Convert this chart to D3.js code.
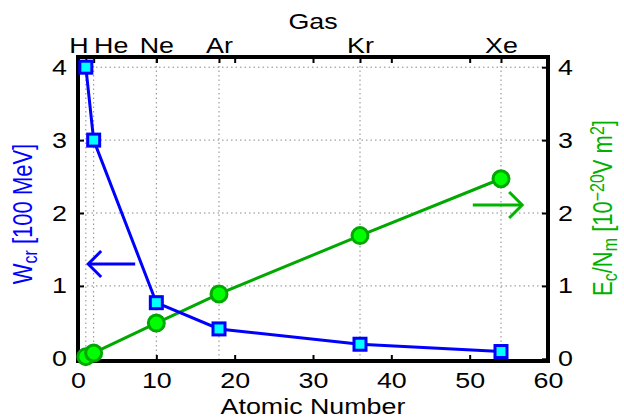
<!DOCTYPE html>
<html lang="en">
<head>
<meta charset="UTF-8">
<title>Wcr and Ec/Nm vs atomic number</title>
<script src="https://cdn.jsdelivr.net/npm/d3@7"></script>
<style>
    body { margin: 0; background: #fff; }
    text { font-family: "Liberation Sans", Arial, sans-serif; font-size: 22px; }
    .axis path { display: none; }
    .axis line { stroke: #000; stroke-width: 2; }
    .grid line { stroke: #8a8a8a; stroke-width: 1; stroke-dasharray: 1.5, 3; }
</style>
</head>
<body>
<script>
    // data
    const gases = ['H', 'He', 'Ne', 'Ar', 'Kr', 'Xe']
    const atomicNumber = [1, 2, 10, 18, 36, 54]
    const wcr = [4.0, 3.0, 0.77, 0.41, 0.2, 0.1]          // [100 MeV]
    const ecNm = [0.03, 0.08, 0.49, 0.89, 1.69, 2.47]    // [1e-20 V m^2]
    const xTicks = [0, 10, 20, 30, 40, 50, 60]
    const yTicks = [0, 1, 2, 3, 4]
    // arrows: [x from, x to, y]
    const leftArrow = [7.3, 1.3, 1.30]
    const rightArrow = [50.4, 56.7, 2.11]

    const width = 624
    const height = 420
    const blue = '#0000ff'
    const green = '#00a800'
    const sx = 1.22   // text in the original is drawn a bit wide

    const svg = d3.select('body').append('svg').attr('width', width).attr('height', height)

    const x = d3.scaleLinear().domain([0, 60]).range([78, 548])
    const y = d3.scaleLinear().domain([-0.03, 4.14]).range([361, 57])
    const pLeft = x.range()[0], pRight = x.range()[1]
    const pTop = y.range()[1], pBottom = y.range()[0]

    // grid
    const grid = svg.append('g').attr('class', 'grid')
    grid.selectAll('.v').data(atomicNumber).enter().append('line')
        .attr('x1', d => x(d)).attr('x2', d => x(d))
        .attr('y1', pTop).attr('y2', pBottom)
    grid.selectAll('.h').data(yTicks.slice(1)).enter().append('line')
        .attr('x1', pLeft).attr('x2', pRight)
        .attr('y1', d => y(d)).attr('y2', d => y(d))

    // axes (ticks inward)
    const fmt = d3.format('d')
    svg.append('g').attr('class', 'axis')
        .attr('transform', 'translate(0,' + pBottom + ')')
        .call(d3.axisBottom(x).tickValues(xTicks).tickSize(-6).tickPadding(11).tickFormat(fmt))
    svg.append('g').attr('class', 'axis')
        .attr('transform', 'translate(0,' + pTop + ')')
        .call(d3.axisTop(x).tickValues(xTicks).tickSize(-6).tickFormat(''))
    const topAxis = svg.append('g').attr('class', 'axis')
        .attr('transform', 'translate(0,' + pTop + ')')
        .call(d3.axisTop(x).tickValues(atomicNumber).tickSize(-6).tickPadding(4)
            .tickFormat((d, i) => gases[i]))
    // nudge H / He apart so they don't overlap
    topAxis.selectAll('.tick text').attr('x', (d, i) => i === 0 ? -6 : (i === 1 ? 14 : 0))

    const leftAxis = svg.append('g').attr('class', 'axis')
        .attr('transform', 'translate(' + pLeft + ',0)')
        .call(d3.axisLeft(y).tickValues(yTicks).tickSize(-6).tickFormat(fmt))
    leftAxis.selectAll('.tick text').attr('x', -11 / sx)
    const rightAxis = svg.append('g').attr('class', 'axis')
        .attr('transform', 'translate(' + pRight + ',0)')
        .call(d3.axisRight(y).tickValues(yTicks).tickSize(-6).tickFormat(fmt))
    rightAxis.selectAll('.tick text').attr('x', 10 / sx)
    svg.selectAll('.axis text').attr('fill', '#000').style('font-size', '22px')
        .attr('transform', 'scale(' + sx + ',1)')

    // frame
    svg.append('rect')
        .attr('x', pLeft).attr('y', pTop)
        .attr('width', pRight - pLeft).attr('height', pBottom - pTop)
        .attr('fill', 'none').attr('stroke', '#000').attr('stroke-width', 4)

    // series lines
    const lineW = d3.line().x((d, i) => x(atomicNumber[i])).y(d => y(d))
    svg.append('path').datum(ecNm).attr('d', lineW)
        .attr('fill', 'none').attr('stroke', green).attr('stroke-width', 3)
    svg.append('path').datum(wcr).attr('d', lineW)
        .attr('fill', 'none').attr('stroke', blue).attr('stroke-width', 3)

    // markers
    svg.selectAll('.circ').data(ecNm).enter().append('circle')
        .attr('cx', (d, i) => x(atomicNumber[i])).attr('cy', d => y(d))
        .attr('r', 8).attr('fill', '#00ff00').attr('stroke', green).attr('stroke-width', 3)
    svg.selectAll('.sq').data(wcr).enter().append('rect')
        .attr('x', (d, i) => x(atomicNumber[i]) - 6).attr('y', d => y(d) - 6)
        .attr('width', 12).attr('height', 12)
        .attr('fill', '#00ffff').attr('stroke', blue).attr('stroke-width', 3)

    // arrows
    function arrow(a, color) {
        const x0 = x(a[0]), x1 = x(a[1]), yy = y(a[2])
        const dir = x1 > x0 ? -1 : 1
        const g = svg.append('g').attr('stroke', color).attr('stroke-width', 3)
            .attr('fill', 'none')
        g.append('line').attr('x1', x0).attr('x2', x1).attr('y1', yy).attr('y2', yy)
        g.append('path').attr('d', 'M' + (x1 + dir * 13) + ',' + (yy - 13) +
            'L' + x1 + ',' + yy + 'L' + (x1 + dir * 13) + ',' + (yy + 13))
    }
    arrow(leftArrow, blue)
    arrow(rightArrow, '#00b400')

    // axis titles
    svg.append('text').attr('transform', 'translate(' + (pLeft + pRight) / 2 + ',414) scale(' + sx + ',1)')
        .attr('text-anchor', 'middle').text('Atomic Number')
    svg.append('text').attr('transform', 'translate(' + x(30) + ',29) scale(' + sx + ',1)')
        .attr('text-anchor', 'middle').text('Gas')

    const yl = svg.append('text')
        .attr('transform', 'translate(32,214) scale(' + sx + ',1) rotate(-90)')
        .attr('text-anchor', 'middle').attr('fill', blue)
    yl.append('tspan').text('W')
    yl.append('tspan').attr('baseline-shift', '-25%').style('font-size', '16px').text('cr')
    yl.append('tspan').text(' [100 MeV]')

    const yr = svg.append('text')
        .attr('transform', 'translate(612,208) scale(' + sx + ',1) rotate(-90)')
        .attr('text-anchor', 'middle').attr('fill', '#00b000')
    yr.append('tspan').text('E')
    yr.append('tspan').attr('baseline-shift', '-25%').style('font-size', '16px').text('c')
    yr.append('tspan').text('/N')
    yr.append('tspan').attr('baseline-shift', '-25%').style('font-size', '16px').text('m')
    yr.append('tspan').text(' [10')
    yr.append('tspan').attr('baseline-shift', '40%').style('font-size', '16px').text('\u221220')
    yr.append('tspan').text('V m')
    yr.append('tspan').attr('baseline-shift', '40%').style('font-size', '16px').text('2')
    yr.append('tspan').text(']')
</script>
</body>
</html>
